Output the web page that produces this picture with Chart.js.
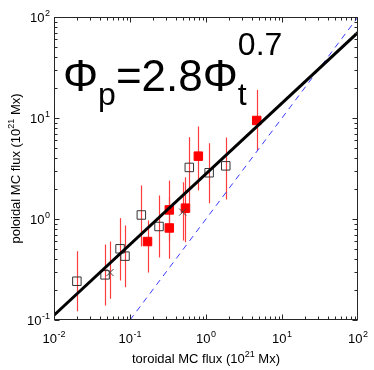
<!DOCTYPE html>
<html>
<head>
<meta charset="utf-8">
<script src="https://cdn.jsdelivr.net/npm/chart.js@4.4.0/dist/chart.umd.min.js"></script>
<style>
  html, body { margin: 0; padding: 0; background: #fff }
  #wrap { width: 374px; height: 370px }
</style>
</head>
<body>
<div id="wrap"><canvas id="c"></canvas></div>
<script>
// open squares (toroidal, poloidal, error bar low / high), 10^21 Mx
const openX = [0.020, 0.047, 0.074, 0.086, 0.141, 0.241, 0.603, 1.10, 1.82]
const openY = [0.242, 0.280, 0.507, 0.429, 1.096, 0.843, 3.24, 2.87, 3.36]
const openLo = [0.122, 0.139, 0.246, 0.211, 0.535, 0.416, 1.41, 1.43, 1.56]
const openHi = [0.48, 0.559, 1.02, 0.863, 2.15, 1.71, 6.46, 5.63, 6.41]
// filled red squares
const redX = [0.170, 0.329, 0.329, 0.537, 0.793, 4.65]
const redY = [0.598, 1.23, 0.815, 1.28, 4.19, 9.45]
const redLo = [0.295, 0.612, 0.404, 0.589, 1.92, 4.77]
const redHi = [0.966, 2.40, 1.64, 2.59, 8.24, 19.0]
// crosses
const crossX = [0.0546, 0.493]
const crossY = [0.295, 1.17]
const crossLo = [0.162, 0.612]
const crossHi = [0.598, 2.31]
// fit line  Phi_p = 2.8 Phi_t^0.7  and  Phi_p = Phi_t
const fitX = [0.01, 100]
const fitY = [0.1115, 70.3]
const eqX = [0.1, 100]
const eqY = [0.1, 100]
// axis ticks
const xTicks = [0.01, 0.1, 1, 10, 100]
const yTicks = [0.1, 1, 10, 100]

const FONT = '"Liberation Sans", Arial, sans-serif'
const pts = (xs, ys) => xs.map((x, i) => ({ x, y: ys[i] }))

const errorBars = {
  id: 'errorBars',
  beforeDatasetsDraw(chart) {
    const { ctx, chartArea: a, scales: { x, y } } = chart
    ctx.save()
    ctx.beginPath(); ctx.rect(a.left, a.top, a.right - a.left, a.bottom - a.top); ctx.clip()
    ctx.strokeStyle = '#ff3c3c'; ctx.lineWidth = 1.2
    const groups = [[openX, openLo, openHi], [redX, redLo, redHi], [crossX, crossLo, crossHi]]
    groups.forEach(([xs, lo, hi]) => {
      xs.forEach((v, i) => {
        const px = Math.round(x.getPixelForValue(v)) + 0.5
        ctx.beginPath()
        ctx.moveTo(px, y.getPixelForValue(lo[i]))
        ctx.lineTo(px, y.getPixelForValue(hi[i]))
        ctx.stroke()
      })
    })
    ctx.restore()
  }
}

function powLabel(ctx, exp, x, y, align) {
  ctx.font = '13px ' + FONT
  const w1 = ctx.measureText('10').width
  ctx.font = '9px ' + FONT
  const w2 = ctx.measureText(exp).width
  const total = w1 + w2 + 0.5
  let sx = align === 'center' ? x - total / 2 : x - total
  ctx.font = '13px ' + FONT
  ctx.fillText('10', sx, y)
  ctx.font = '9px ' + FONT
  ctx.fillText(exp, sx + w1 + 0.5, y - 6)
}

const frame = {
  id: 'frame',
  afterDraw(chart) {
    const { ctx, chartArea: a, scales: { x, y } } = chart
    ctx.save()
    ctx.strokeStyle = '#262626'; ctx.lineWidth = 1
    const L = Math.round(a.left) + 0.5, R = Math.round(a.right) - 0.5
    const T = Math.round(a.top) + 0.5, B = Math.round(a.bottom) - 0.5
    ctx.strokeRect(L, T, R - L, B - T)
    // ticks, inward on all four sides
    ctx.beginPath()
    for (let d = -2; d < 2; d++) {
      for (let k = 1; k <= 9; k++) {
        const v = k * Math.pow(10, d)
        const px = Math.round(x.getPixelForValue(v)) + 0.5
        const len = k === 1 ? 5 : 3
        ctx.moveTo(px, B); ctx.lineTo(px, B - len)
        ctx.moveTo(px, T); ctx.lineTo(px, T + len)
      }
    }
    for (let d = -1; d < 2; d++) {
      for (let k = 1; k <= 9; k++) {
        const v = k * Math.pow(10, d)
        const py = Math.round(y.getPixelForValue(v)) + 0.5
        const len = k === 1 ? 5 : 3
        ctx.moveTo(L, py); ctx.lineTo(L + len, py)
        ctx.moveTo(R, py); ctx.lineTo(R - len, py)
      }
    }
    ctx.stroke()

    ctx.fillStyle = '#000'
    ctx.textBaseline = 'alphabetic'; ctx.textAlign = 'left'
    xTicks.forEach(v => powLabel(ctx, String(Math.round(Math.log10(v))), x.getPixelForValue(v), 343, 'center'))
    yTicks.forEach(v => powLabel(ctx, String(Math.round(Math.log10(v))), 50, y.getPixelForValue(v) + 5, 'right'))

    // axis titles
    const title = (label, cx, cy, rot) => {
      ctx.save()
      ctx.translate(cx, cy); ctx.rotate(rot)
      const parts = [[label + ' MC flux (10', 13, 0], ['21', 9, -6], [' Mx)', 13, 0]]
      let w = 0
      parts.forEach(p => { ctx.font = p[1] + 'px ' + FONT; w += ctx.measureText(p[0]).width })
      let sx = -w / 2
      parts.forEach(p => { ctx.font = p[1] + 'px ' + FONT; ctx.fillText(p[0], sx, p[2]); sx += ctx.measureText(p[0]).width })
      ctx.restore()
    }
    title('toroidal', (a.left + a.right) / 2, 363, 0)
    title('poloidal', 20, (a.top + a.bottom) / 2, -Math.PI / 2)

    // equation
    let ex = 63
    const put = (s, size, dy) => { ctx.font = size + 'px ' + FONT; ctx.fillText(s, ex, 91 + dy); return ctx.measureText(s).width }
    ex += put('\u03A6', 44, 0)
    ex += put('p', 32, 14)
    ex += put('=2.8\u03A6', 44, 0)
    put('t', 32, 14)
    put('0.7', 32, -36)
    ctx.restore()
  }
}

new Chart(document.getElementById('c'), {
  type: 'scatter',
  data: {
    datasets: [
      { data: pts(fitX, fitY), showLine: true, borderColor: '#000', borderWidth: 3, pointRadius: 0 },
      { data: pts(crossX, crossY), pointStyle: 'crossRot', pointRadius: 5, borderColor: '#444', borderWidth: 1 },
      { data: pts(redX, redY), pointStyle: 'rect', pointRadius: 6, backgroundColor: '#ff0000', borderColor: '#ff0000', borderWidth: 1 },
      { data: pts(openX, openY), pointStyle: 'rect', pointRadius: 6, backgroundColor: 'rgba(0,0,0,0)', borderColor: '#333', borderWidth: 1 },
      { data: pts(eqX, eqY), showLine: true, borderColor: '#3a3aff', borderWidth: 1, borderDash: [6, 5], pointRadius: 0 }
    ]
  },
  options: {
    responsive: true, maintainAspectRatio: false, animation: false,
    layout: { padding: { left: 54, top: 17, right: 16, bottom: 50 } },
    plugins: { legend: { display: false }, tooltip: { enabled: false } },
    scales: {
      x: { type: 'logarithmic', min: 0.01, max: 100, display: false },
      y: { type: 'logarithmic', min: 0.1, max: 100, display: false }
    }
  },
  plugins: [errorBars, frame]
})
</script>
</body>
</html>
